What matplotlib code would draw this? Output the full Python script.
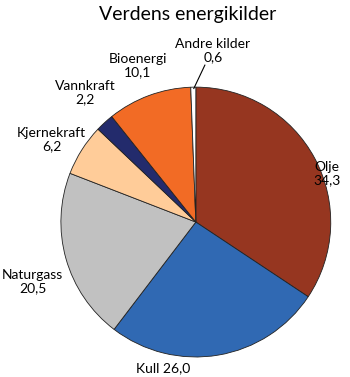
import matplotlib
matplotlib.use('Agg')
import matplotlib.pyplot as plt

# Data
labels = ['Olje', 'Kull', 'Naturgass', 'Kjernekraft', 'Vannkraft', 'Bioenergi', 'Andre kilder']
values = [34.3, 26.0, 20.5, 6.2, 2.2, 10.1, 0.6]
value_text = ['34,3', '26,0', '20,5', '6,2', '2,2', '10,1', '0,6']
colors = ['#963620', '#3069B3', '#C1C1C1', '#FFCC99', '#232B6C', '#F26B25', '#FFFFFF']

plt.rcParams['font.family'] = ['Lato', 'DejaVu Sans']

fig = plt.figure(figsize=(3.5, 3.77), dpi=100)
ax = fig.add_axes([0.174, 0.053, 0.771, 0.716])

ax.pie(values, colors=colors, startangle=90, counterclock=False, radius=1.0,
       wedgeprops=dict(edgecolor='#222222', linewidth=0.6))
ax.set_xlim(-1, 1)
ax.set_ylim(-1, 1)
ax.set_aspect('equal')

# label placement (data coords, pie radius = 1)
label_pos = {
    'Olje': (0.97, 0.36),
    'Kull': (-0.24, -1.08),
    'Naturgass': (-1.21, -0.44),
    'Kjernekraft': (-1.07, 0.61),
    'Vannkraft': (-0.82, 0.96),
    'Bioenergi': (-0.43, 1.16),
    'Andre kilder': (0.126, 1.27),
}
for name, txt in zip(labels, value_text):
    x, y = label_pos[name]
    s = name + ' ' + txt if name == 'Kull' else name + '\n' + txt
    ax.text(x, y, s, ha='center', va='center', fontsize=10,
            linespacing=1.15, clip_on=False)

# leader line for the small slice
ax.plot([0.067, -0.015], [1.163, 0.99], color='black', lw=0.8, clip_on=False)

fig.text(0.537, 0.962, 'Verdens energikilder', ha='center', va='center', fontsize=14)

plt.savefig('out.png', dpi=100)
